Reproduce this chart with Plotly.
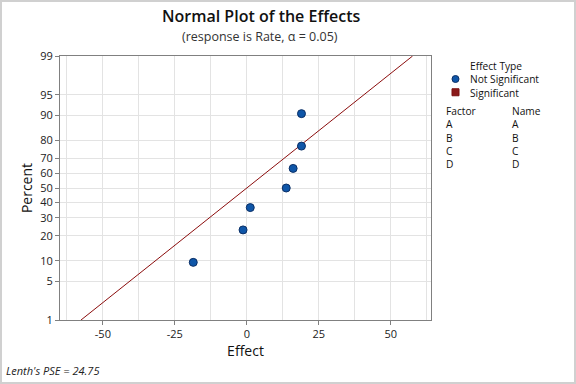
import plotly.graph_objects as go
from statistics import NormalDist

# ---- data ----
effects = [-18.6, -1.3, 1.2, 13.7, 16.1, 19.0, 19.0]
percents = [9.5, 23.0, 36.5, 50.0, 63.5, 77.0, 90.5]
line_effects = [-57.6, 57.6]
line_percents = [1, 99]
y_ticks = [1, 5, 10, 20, 30, 40, 50, 60, 70, 80, 90, 95, 99]
x_ticks = [-50, -25, 0, 25, 50]
legend_labels = ["Effect Type", "Not Significant", "Significant"]
factors = ["A", "B", "C", "D"]
names = ["A", "B", "C", "D"]
pse_text = "Lenth's PSE = 24.75"

nd = NormalDist()
def z(p):
    return nd.inv_cdf(p / 100.0)

FONT = "Open Sans, Noto Sans, DejaVu Sans, sans-serif"
W, H = 576, 384
L, R, T, B = 60, 431, 56, 320
pw, ph = R - L, B - T

def px(x):
    return (x - L) / pw
def py(y):
    return (B - y) / ph

fig = go.Figure()
fig.add_trace(go.Scatter(
    x=line_effects, y=[z(p) for p in line_percents], mode="lines",
    line=dict(color="#8b0d0d", width=1), showlegend=False, hoverinfo="skip"))
fig.add_trace(go.Scatter(
    x=effects, y=[z(p) for p in percents], mode="markers",
    marker=dict(size=8, color="#0f56a8", line=dict(color="#0a2f66", width=1)),
    showlegend=False))

ann = []
ann.append(dict(text="Normal Plot of the Effects", x=px(261), y=py(16.5), xref="paper", yref="paper",
                xanchor="center", yanchor="middle", borderpad=0,
                showarrow=False, font=dict(size=16, family=FONT, color="#111", weight=600)))
ann.append(dict(text="(response is Rate, α = 0.05)", x=px(260), y=py(36.5), xref="paper", yref="paper",
                xanchor="center", yanchor="middle", borderpad=0,
                showarrow=False, font=dict(size=12.5, family=FONT, color="#333")))
ann.append(dict(text=pse_text, x=px(4), y=py(370), xref="paper", yref="paper", xanchor="left",
                yanchor="middle",
                showarrow=False, font=dict(size=11, family=FONT, color="#222", style="italic")))

FS = 10.2
LS = FS * 1.3
leg_font = dict(size=FS, family=FONT, color="#111")
def block(lines, x, ycenter):
    ann.append(dict(text="<br>".join(lines), x=px(x), y=py(ycenter), xref="paper", yref="paper",
                    xanchor="left", yanchor="middle", align="left", showarrow=False,
                    font=leg_font, borderpad=0))

eff_center = 79
block(legend_labels, 469, eff_center)
fac_center = 137
block(["Factor"] + factors, 445, fac_center)
block(["Name"] + names, 511, fac_center)

y_not = eff_center
y_sig = eff_center + LS
shapes = []
shapes.append(dict(type="circle", xref="paper", yref="paper",
                   x0=px(452), x1=px(459), y0=py(y_not + 3.5), y1=py(y_not - 3.5),
                   fillcolor="#0f56a8", line=dict(color="#0a2f66", width=1)))
shapes.append(dict(type="rect", xref="paper", yref="paper",
                   x0=px(452), x1=px(459), y0=py(y_sig + 3.5), y1=py(y_sig - 3.5),
                   fillcolor="#8b1a1a", line=dict(color="#7a1010", width=1)))
shapes.append(dict(type="rect", xref="paper", yref="paper",
                   x0=px(1), x1=px(W - 1), y0=py(H - 1), y1=py(1),
                   line=dict(color="#d0d0d0", width=2), fillcolor="rgba(0,0,0,0)", layer="below"))

axis_line = "#808080"
grid = "#e3e3e3"
fig.update_layout(
    width=W, height=H,
    margin=dict(l=L, r=W - R, t=T, b=H - B),
    paper_bgcolor="white", plot_bgcolor="white",
    font=dict(family=FONT, size=11, color="#222"),
    annotations=ann, shapes=shapes, showlegend=False,
    xaxis=dict(range=[-64.9, 64], tickvals=x_ticks, ticktext=[str(v) for v in x_ticks],
               showgrid=True, gridcolor=grid, gridwidth=1, zeroline=False,
               minor=dict(tickmode="array", tickvals=[-62.5, -37.5, -12.5, 12.5, 37.5, 62.5],
                          showgrid=True, gridcolor=grid, ticks=""),
               showline=True, linecolor=axis_line, linewidth=1, mirror=True,
               ticks="outside", ticklen=4, tickcolor=axis_line,
               tickfont=dict(size=11, family=FONT, color="#222"),
               title=dict(text="Effect", font=dict(size=14, family=FONT, color="#111"), standoff=4)),
    yaxis=dict(range=[z(1), z(99)], tickvals=[z(p) for p in y_ticks], ticktext=[str(p) for p in y_ticks],
               showgrid=True, gridcolor=grid, gridwidth=1, zeroline=False,
               showline=True, linecolor=axis_line, linewidth=1, mirror=True,
               ticks="outside", ticklen=4, tickcolor=axis_line,
               tickfont=dict(size=11, family=FONT, color="#222"),
               title=dict(text="Percent", font=dict(size=14, family=FONT, color="#111"), standoff=4)),
)
fig.write_html("out.html", config={"displayModeBar": False},
               post_script="document.body.style.margin='0';")
